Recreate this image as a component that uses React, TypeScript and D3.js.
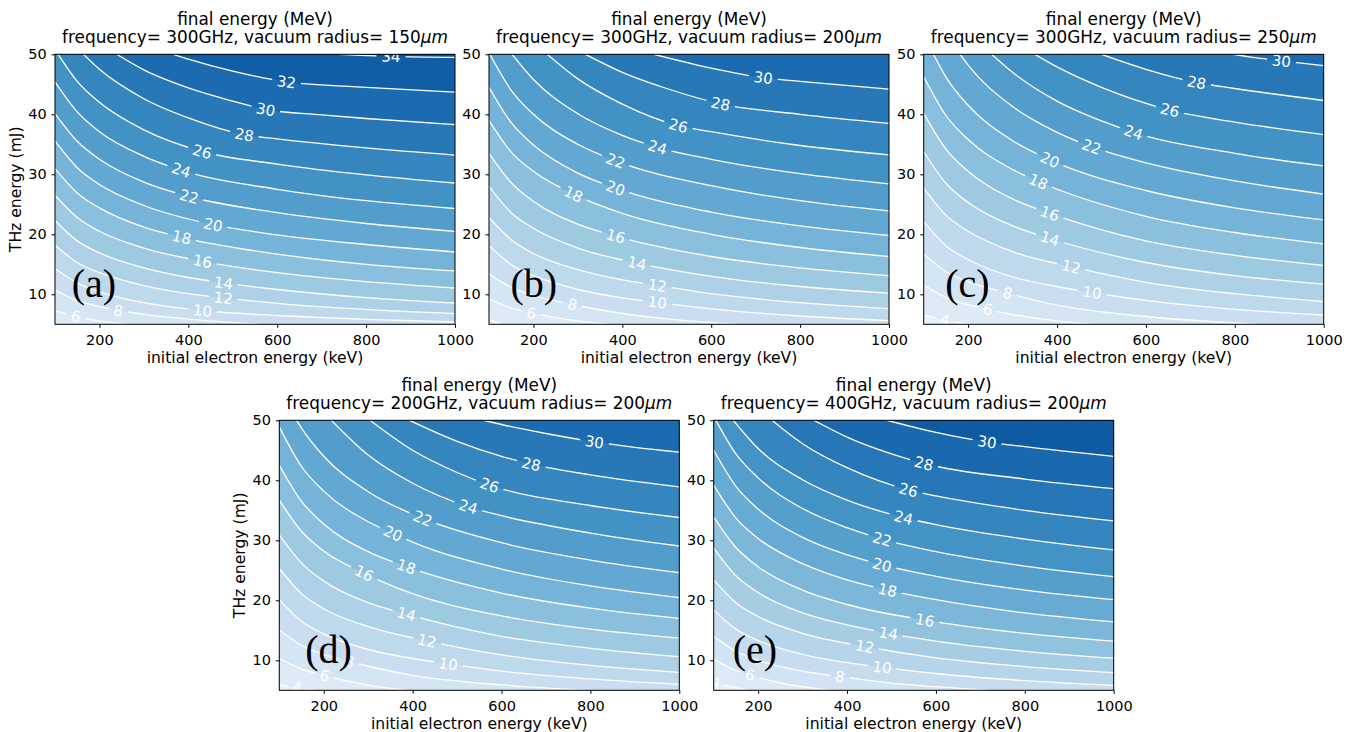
import React, { useEffect, useRef } from 'react';
import * as d3 from 'd3';

// final energy contours
// each entry: [level (MeV), label position (keV) or null, points [initial energy keV, THz energy mJ]]

const X_TICKS = [200, 400, 600, 800, 1000];
const Y_TICKS = [10, 20, 30, 40, 50];
const X_DOMAIN = [100, 1000];
const Y_DOMAIN = [5, 50];

const LINES_A = [
  [34, 856, [[741, 50], [800, 49.8], [856, 49.65], [1000, 49.5]]],
  [32, 621, [[366, 50], [400, 49.2], [500, 47.2], [621, 45.4], [800, 44.5], [1000, 43.7]]],
  [30, 574, [[239, 50], [300, 47.4], [400, 44.4], [500, 42.2], [574, 40.8], [700, 39.9], [800, 39.3], [1000, 38.3]]],
  [28, 526, [[164, 50], [200, 47.5], [300, 42.6], [400, 39.4], [526, 36.6], [600, 35.9], [800, 34.4], [1000, 33.2]]],
  [26, 431, [[107, 50], [150, 45.5], [200, 42.0], [300, 37.4], [431, 33.8], [600, 31.7], [800, 29.9], [1000, 28.55]]],
  [24, 384, [[100, 45.4], [150, 40.4], [200, 37.1], [300, 33.0], [384, 30.7], [600, 27.5], [800, 25.6], [1000, 24.3]]],
  [22, 402, [[100, 40.1], [150, 35.5], [200, 32.5], [300, 28.7], [402, 26.3], [600, 23.6], [800, 21.8], [1000, 20.5]]],
  [20, 456, [[100, 35.55], [150, 31.1], [200, 28.3], [300, 24.8], [456, 21.6], [600, 19.9], [800, 18.3], [1000, 17.05]]],
  [18, 385, [[100, 30.95], [150, 26.9], [200, 24.4], [300, 21.2], [385, 19.5], [600, 16.7], [800, 15.0], [1000, 13.9]]],
  [16, 432, [[100, 26.5], [150, 22.8], [200, 20.5], [300, 17.7], [432, 15.5], [600, 13.6], [800, 12.1], [1000, 11.05]]],
  [14, 479, [[100, 22.3], [150, 18.9], [200, 16.9], [300, 14.4], [400, 12.8], [479, 11.9], [600, 10.8], [800, 9.45], [1000, 8.55]]],
  [12, 479, [[100, 18.2], [150, 15.3], [200, 13.6], [300, 11.45], [400, 10.1], [479, 9.4], [600, 8.5], [800, 7.48], [1000, 6.78]]],
  [10, 432, [[100, 14.3], [150, 11.9], [200, 10.4], [300, 8.6], [432, 7.3], [600, 6.47], [800, 5.83], [1000, 5.38]]],
  [8, 242, [[100, 10.7], [150, 8.97], [200, 7.93], [242, 7.3], [300, 6.65], [400, 5.87], [560, 5]]],
  [6, 147, [[100, 7.33], [147, 6.3], [200, 5.57], [263, 5]]],
];

const LINES_B = [
  [30, 717, [[471, 50], [600, 47.7], [717, 46.1], [800, 45.5], [1000, 44.2]]],
  [28, 621, [[317, 50], [400, 47.0], [500, 44.3], [621, 41.75], [800, 40.0], [1000, 38.5]]],
  [26, 526, [[231, 50], [300, 45.9], [400, 41.7], [526, 38.1], [600, 37.1], [800, 34.8], [1000, 33.25]]],
  [24, 479, [[152, 50], [200, 45.8], [300, 40.1], [400, 36.5], [479, 34.5], [600, 32.5], [800, 30.1], [1000, 28.4]]],
  [22, 385, [[102, 50], [150, 44.0], [200, 40.0], [300, 35.0], [385, 32.25], [600, 28.1], [800, 25.6], [1000, 23.9]]],
  [20, 385, [[100, 44.5], [150, 38.6], [200, 34.9], [300, 30.2], [385, 27.7], [600, 23.7], [800, 21.4], [1000, 19.8]]],
  [18, 290, [[100, 39], [150, 33.7], [200, 30.5], [290, 26.7], [400, 23.5], [600, 20.0], [800, 17.8], [1000, 16.3]]],
  [16, 385, [[100, 33.5], [150, 28.6], [200, 25.5], [300, 21.7], [385, 19.7], [600, 16.3], [800, 14.4], [1000, 13.1]]],
  [14, 433, [[100, 28], [150, 23.6], [200, 21.0], [300, 17.7], [433, 15.2], [600, 13.0], [800, 11.3], [1000, 10.2]]],
  [12, 479, [[100, 22.8], [150, 19.1], [200, 16.8], [300, 14.1], [400, 12.4], [479, 11.5], [600, 10.1], [800, 8.6], [1000, 7.6]]],
  [10, 479, [[100, 18.1], [150, 14.95], [200, 13.1], [300, 10.8], [400, 9.4], [479, 8.65], [600, 7.57], [800, 6.38], [1000, 5.6]]],
  [8, 288, [[100, 13.4], [150, 11.15], [200, 9.8], [288, 8.3], [400, 6.8], [500, 5.9], [660, 5]]],
  [6, 195, [[100, 9.2], [150, 7.73], [195, 6.9], [300, 5.56], [370, 5]]],
  [4, null, [[100, 5.8], [130, 5]]],
];

const LINES_C = [
  [30, 905, [[797, 50], [850, 49.4], [905, 48.9], [1000, 48.1]]],
  [28, 714, [[500, 50], [600, 47.5], [714, 45.3], [800, 44.3], [1000, 42.3]]],
  [26, 654, [[350, 50], [400, 47.9], [500, 44.5], [654, 40.7], [800, 38.7], [1000, 36.6]]],
  [24, 572, [[253, 50], [300, 47.0], [400, 42.2], [500, 38.9], [572, 37.0], [800, 33.5], [1000, 31.4]]],
  [22, 478, [[182, 50], [200, 48.2], [300, 41.3], [400, 37.0], [478, 34.6], [600, 31.9], [800, 28.9], [1000, 26.7]]],
  [20, 384, [[122, 50], [150, 46.2], [200, 41.5], [300, 35.6], [384, 32.4], [600, 27.3], [800, 24.4], [1000, 22.4]]],
  [18, 358, [[100, 46.3], [150, 39.8], [200, 35.8], [300, 30.8], [358, 28.8], [600, 23.0], [800, 20.3], [1000, 18.4]]],
  [16, 384, [[100, 40.2], [150, 34.2], [200, 30.5], [300, 25.9], [384, 23.5], [600, 18.9], [800, 16.5], [1000, 14.8]]],
  [14, 384, [[100, 33.8], [150, 28.5], [200, 25.3], [300, 21.4], [384, 19.3], [600, 15.3], [800, 13.1], [1000, 11.7]]],
  [12, 432, [[100, 27.7], [150, 23.2], [200, 20.5], [300, 17.1], [432, 14.6], [600, 12.0], [800, 10.1], [1000, 8.8]]],
  [10, 479, [[100, 22.1], [150, 18.1], [200, 15.8], [300, 12.9], [400, 11.3], [479, 10.3], [600, 8.97], [800, 7.5], [1000, 6.55]]],
  [8, 289, [[100, 16.7], [150, 13.8], [200, 12.1], [289, 10.2], [400, 8.2], [600, 6.3], [850, 5]]],
  [6, 244, [[100, 11.6], [150, 9.5], [200, 8.26], [244, 7.5], [300, 6.62], [400, 5.57], [479, 5]]],
  [4, 148, [[100, 6.5], [148, 5.7], [205, 5]]],
];

const LINES_D = [
  [30, 809, [[560, 50], [600, 49.3], [700, 47.8], [809, 46.4], [900, 45.5], [1000, 44.7]]],
  [28, 667, [[393, 50], [500, 46.5], [600, 44.0], [667, 42.7], [800, 40.9], [1000, 38.9]]],
  [26, 573, [[304, 50], [400, 45.0], [500, 41.3], [573, 39.2], [800, 35.8], [1000, 33.8]]],
  [24, 525, [[217, 50], [300, 44.2], [400, 39.5], [525, 35.6], [600, 34.1], [800, 31.2], [1000, 29.05]]],
  [22, 423, [[139, 50], [150, 48.7], [200, 44.0], [300, 38.1], [423, 33.65], [600, 29.6], [800, 26.7], [1000, 24.6]]],
  [20, 356, [[100, 48.9], [150, 42.3], [200, 38.2], [300, 33.1], [356, 31.15], [400, 29.7], [600, 25.2], [800, 22.4], [1000, 20.45]]],
  [18, 386, [[100, 42.5], [150, 36.5], [200, 32.7], [300, 28.1], [386, 25.6], [600, 21.2], [800, 18.7], [1000, 17.0]]],
  [16, 291, [[100, 36.7], [150, 31.5], [200, 28.2], [291, 24.5], [400, 21.1], [600, 17.4], [800, 15.2], [1000, 13.7]]],
  [14, 386, [[100, 30.9], [150, 26.2], [200, 23.2], [300, 19.6], [386, 17.7], [600, 14.0], [800, 12.0], [1000, 10.6]]],
  [12, 432, [[100, 25.3], [150, 21.1], [200, 18.6], [300, 15.6], [432, 13.25], [600, 10.9], [800, 9.15], [1000, 8.0]]],
  [10, 480, [[100, 20.1], [150, 16.5], [200, 14.4], [300, 11.8], [400, 10.3], [480, 9.4], [600, 8.2], [800, 6.9], [1000, 6.0]]],
  [8, 258, [[100, 15.05], [150, 12.5], [200, 11.0], [258, 9.8], [400, 7.5], [600, 5.9], [790, 5]]],
  [6, 202, [[100, 10.35], [150, 8.56], [202, 7.45], [300, 5.87], [390, 5]]],
  [4, 140, [[100, 5.95], [140, 5.45], [185, 5]]],
];

const LINES_E = [
  [30, 715, [[490, 50], [600, 48.0], [715, 46.4], [800, 45.6], [1000, 44.0]]],
  [28, 573, [[325, 50], [400, 47.2], [500, 44.4], [573, 42.8], [800, 40.2], [1000, 38.6]]],
  [26, 538, [[231, 50], [300, 46.1], [400, 42.1], [538, 38.4], [600, 37.4], [800, 35.0], [1000, 33.25]]],
  [24, 527, [[144, 50], [200, 45.3], [300, 40.1], [400, 36.7], [527, 33.8], [600, 32.6], [800, 30.2], [1000, 28.4]]],
  [22, 479, [[105, 50], [150, 44.4], [200, 40.4], [300, 35.3], [400, 32.1], [479, 30.2], [600, 28.1], [800, 25.7], [1000, 23.95]]],
  [20, 479, [[100, 45.0], [150, 39.0], [200, 35.2], [300, 30.5], [400, 27.6], [479, 25.9], [600, 24.0], [800, 21.7], [1000, 20.1]]],
  [18, 491, [[100, 39.2], [150, 33.7], [200, 30.3], [300, 26.1], [400, 23.4], [491, 21.7], [600, 20.1], [800, 17.9], [1000, 16.4]]],
  [16, 575, [[100, 33.9], [150, 28.8], [200, 25.6], [300, 21.7], [400, 19.3], [575, 16.7], [800, 14.5], [1000, 13.2]]],
  [14, 493, [[100, 28.7], [150, 24.1], [200, 21.3], [300, 17.9], [400, 15.9], [493, 14.5], [600, 13.2], [800, 11.5], [1000, 10.35]]],
  [12, 440, [[100, 23.4], [150, 19.6], [200, 17.3], [300, 14.5], [440, 12.3], [600, 10.4], [800, 8.95], [1000, 7.95]]],
  [10, 479, [[100, 18.4], [150, 15.2], [200, 13.3], [300, 11.0], [400, 9.6], [479, 8.85], [600, 7.8], [800, 6.6], [1000, 5.8]]],
  [8, 384, [[100, 14.0], [150, 11.5], [200, 10.0], [300, 8.2], [384, 7.3], [500, 6.2], [600, 5.6], [720, 5]]],
  [6, 182, [[100, 10.2], [150, 8.3], [182, 7.55], [250, 6.24], [300, 5.6], [360, 5]]],
  [4, 104, [[100, 6.4], [140, 5.6], [175, 5]]],
];

const FREQS = ['300GHz', '300GHz', '300GHz', '200GHz', '400GHz'];
const RADII = ['150', '200', '250', '200', '200'];
const TAGS = ['(a)', '(b)', '(c)', '(d)', '(e)'];
// top of each panel's colour normalisation (MeV)
const VMAX = [40, 40, 40, 40, 37];

// matplotlib Blues
const BLUES = ['#f7fbff', '#deebf7', '#c6dbef', '#9ecae1', '#6baed6', '#4292c6', '#2171b5', '#08519c', '#08306b'];

const FONT = 'DejaVu Sans, sans-serif';
const W = 400;
const H = 270;

const PANELS = [
  { lines: LINES_A, left: 55, top: 54.3, tagX: 16.7, tagY: -27.3, yLabel: true },
  { lines: LINES_B, left: 489, top: 54.3, tagX: 21.5, tagY: -27.3, yLabel: false },
  { lines: LINES_C, left: 923.7, top: 54.3, tagX: 21.5, tagY: -27.3, yLabel: false },
  { lines: LINES_D, left: 279.3, top: 420.3, tagX: 26, tagY: -27.7, yLabel: true },
  { lines: LINES_E, left: 713.7, top: 420.3, tagX: 19, tagY: -27.7, yLabel: false },
];

const App = () => {
  const svgRef = useRef(null);

  useEffect(() => {
    const svg = d3.select(svgRef.current);
    svg.selectAll('*').remove();

    const blues = d3.scaleLinear()
      .domain(BLUES.map((_, i) => i / (BLUES.length - 1)))
      .range(BLUES)
      .interpolate(d3.interpolateRgb);

    const defs = svg.append('defs');

    PANELS.forEach((p, pi) => {
      const color = v => blues(Math.max(0, Math.min(1, v / VMAX[pi])));
      const x = d3.scaleLinear().domain(X_DOMAIN).range([0, W]);
      const y = d3.scaleLinear().domain(Y_DOMAIN).range([H, 0]);
      const g = svg.append('g').attr('transform', `translate(${p.left},${p.top})`);

      defs.append('clipPath').attr('id', `clip${pi}`)
        .append('rect').attr('width', W).attr('height', H);

      const lines = p.lines.slice().sort((a, b) => a[0] - b[0]);
      const lineGen = d3.line()
        .x(d => x(d[0]))
        .y(d => y(d[1]))
        .curve(d3.curveMonotoneX);

      const plot = g.append('g').attr('clip-path', `url(#clip${pi})`);

      // filled bands: paint lowest band, then each region above a contour
      plot.append('rect').attr('width', W).attr('height', H).attr('fill', color(lines[0][0] - 1));
      lines.forEach(([lev, , pts]) => {
        const last = pts[pts.length - 1];
        let d = lineGen(pts);
        if (last[0] < X_DOMAIN[1]) d += `L${x(X_DOMAIN[1])},${y(Y_DOMAIN[0])}`;
        d += `L${x(X_DOMAIN[1])},${y(Y_DOMAIN[1])}L${x(X_DOMAIN[0])},${y(Y_DOMAIN[1])}Z`;
        plot.append('path').attr('d', d).attr('fill', color(lev + 1));
      });

      // contour lines, broken where labels sit
      const mask = defs.append('mask').attr('id', `mask${pi}`).attr('maskUnits', 'userSpaceOnUse')
        .attr('x', -50).attr('y', -50).attr('width', W + 100).attr('height', H + 100);
      mask.append('rect').attr('x', -50).attr('y', -50).attr('width', W + 100).attr('height', H + 100).attr('fill', 'white');
      const lineG = plot.append('g').attr('mask', `url(#mask${pi})`);
      const labelG = plot.append('g');

      lines.forEach(([lev, lab, pts]) => {
        const path = lineG.append('path')
          .attr('d', lineGen(pts))
          .attr('fill', 'none')
          .attr('stroke', 'white')
          .attr('stroke-width', 1.3);
        if (lab == null) return;
        const node = path.node();
        const len = node.getTotalLength();
        const tx = x(lab);
        let lo = 0, hi = len;
        for (let k = 0; k < 30; k++) {
          const mid = (lo + hi) / 2;
          if (node.getPointAtLength(mid).x < tx) lo = mid; else hi = mid;
        }
        const pt = node.getPointAtLength(lo);
        const pa = node.getPointAtLength(Math.max(0, lo - 4));
        const pb = node.getPointAtLength(Math.min(len, lo + 4));
        const ang = Math.atan2(pb.y - pa.y, pb.x - pa.x) * 180 / Math.PI;
        const tr = `translate(${pt.x},${pt.y}) rotate(${ang})`;
        const t = labelG.append('text')
          .attr('transform', tr)
          .attr('text-anchor', 'middle')
          .attr('dy', '0.36em')
          .attr('font-family', FONT)
          .attr('font-size', 15)
          .attr('fill', 'white')
          .text(lev);
        const tw = t.node().getComputedTextLength();
        mask.append('rect')
          .attr('transform', tr)
          .attr('x', -tw / 2 - 5).attr('y', -6)
          .attr('width', tw + 10).attr('height', 12)
          .attr('fill', 'black');
      });

      // frame
      g.append('rect').attr('width', W).attr('height', H)
        .attr('fill', 'none').attr('stroke', 'black').attr('stroke-width', 1);

      const xAxis = g.append('g')
        .attr('transform', `translate(0,${H})`)
        .call(d3.axisBottom(x).tickValues(X_TICKS).tickSize(3.5).tickPadding(7).tickFormat(d3.format('d')));
      xAxis.select('.domain').remove();
      xAxis.attr('font-family', FONT).attr('font-size', 14.5);
      xAxis.selectAll('text').attr('fill', '#000');

      const yAxis = g.append('g')
        .call(d3.axisLeft(y).tickValues(Y_TICKS).tickSize(3.5).tickPadding(4.8).tickFormat(d3.format('d')));
      yAxis.select('.domain').remove();
      yAxis.attr('font-family', FONT).attr('font-size', 14.5);
      yAxis.selectAll('text').attr('fill', '#000');

      g.append('text')
        .attr('x', W / 2).attr('y', H + 39)
        .attr('text-anchor', 'middle')
        .attr('font-family', FONT).attr('font-size', 15.6)
        .text('initial electron energy (keV)');

      if (p.yLabel) {
        g.append('text')
          .attr('transform', `translate(-34,${H / 2}) rotate(-90)`)
          .attr('text-anchor', 'middle')
          .attr('font-family', FONT).attr('font-size', 15.6)
          .text('THz energy (mJ)');
      }

      g.append('text')
        .attr('x', W / 2).attr('y', -29.5)
        .attr('text-anchor', 'middle')
        .attr('font-family', FONT).attr('font-size', 16.9)
        .text('final energy (MeV)');
      const t2 = g.append('text')
        .attr('x', W / 2).attr('y', -11)
        .attr('text-anchor', 'middle')
        .attr('font-family', FONT).attr('font-size', 16.9);
      t2.append('tspan').text(`frequency= ${FREQS[pi]}, vacuum radius= ${RADII[pi]}`);
      t2.append('tspan').attr('font-style', 'italic').text('μm');

      g.append('text')
        .attr('x', p.tagX).attr('y', H + p.tagY)
        .attr('font-family', 'Liberation Serif, serif')
        .attr('font-size', 40)
        .attr('fill', 'black')
        .text(TAGS[pi]);
    });
  }, []);

  return (
    <svg
      ref={svgRef}
      width={1354}
      height={732}
      style={{ position: 'absolute', left: 0, top: 0, background: 'white' }}
    />
  );
};

export default App;
